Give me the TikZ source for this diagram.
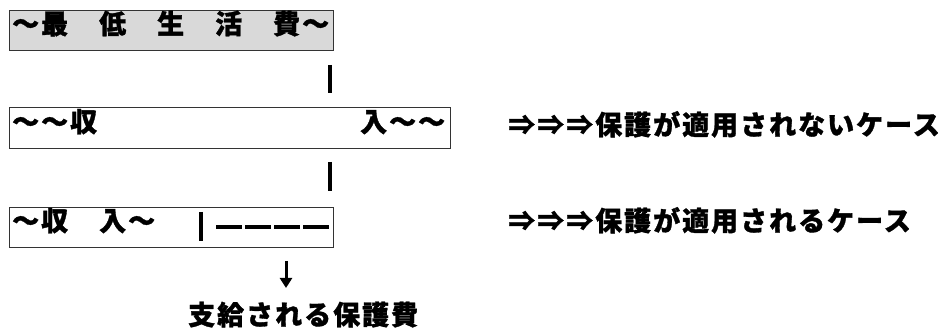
\documentclass[tikz,border=0pt]{standalone}
\usepackage{fontspec}
\usetikzlibrary{arrows.meta}
\newfontfamily\jp[LetterSpace=7.4,BoldFeatures={FakeBold=1.2}]{Noto Sans CJK JP}
\newcommand{\jptext}{\jp\bfseries\fontsize{27pt}{27pt}\selectfont}
\begin{document}
\begin{tikzpicture}[x=1pt,y=-1pt,
  box/.style={draw=black!80,line width=1.3pt,inner sep=0pt,anchor=north west},
  txt/.style={inner sep=0pt,anchor=west,font=\jptext,text height=0.88em,text depth=0.12em},
  barline/.style={line width=3.6pt,black},
  dashline/.style={line width=3.4pt,black,dash pattern=on 26pt off 3pt},
  arrowline/.style={line width=3pt,black,-{Triangle[length=10pt,width=12pt]}}]
\useasboundingbox (0,0) rectangle (946,336);
\fill[white] (0,0) rectangle (946,336);
% boxes
\node[box,fill=black!15,minimum width=324pt,minimum height=40pt] (box1) at (9,10) {};
\node[box,minimum width=441pt,minimum height=41pt] (box2) at (9,107) {};
\node[box,minimum width=324pt,minimum height=40pt] (box3) at (9,207) {};
% texts
\node[txt] (t1) at (12,30) {～最　低　生　活　費～};
\node[txt] (t2) at (12,128) {～～収　　　　　　　　　入～～};
\node[txt] (t3) at (12,227) {～収　入～};
\node[txt] (r1) at (508,131) {⇒⇒⇒保護が適用されないケース};
\node[txt] (r2) at (508,227) {⇒⇒⇒保護が適用されるケース};
\node[txt] (res) at (188,321) {支給される保護費};
% bars between boxes
\coordinate (b1s) at (330,65);
\coordinate (b1e) at (330,93);
\coordinate (b2s) at (330,162);
\coordinate (b2e) at (330,191);
\draw[barline] (b1s) -- (b1e);
\draw[barline] (b2s) -- (b2e);
% bar and dashes inside box 3
\coordinate (v3s) at (201,212);
\coordinate (v3e) at (201,241);
\draw[barline] (v3s) -- (v3e);
\coordinate (d3s) at (216,227);
\coordinate (d3e) at (332,227);
\draw[dashline] (d3s) -- (d3e);
% arrow
\coordinate (as) at (286,261);
\coordinate (ae) at (286,288);
\draw[arrowline] (as) -- (ae);
\end{tikzpicture}
\end{document}
